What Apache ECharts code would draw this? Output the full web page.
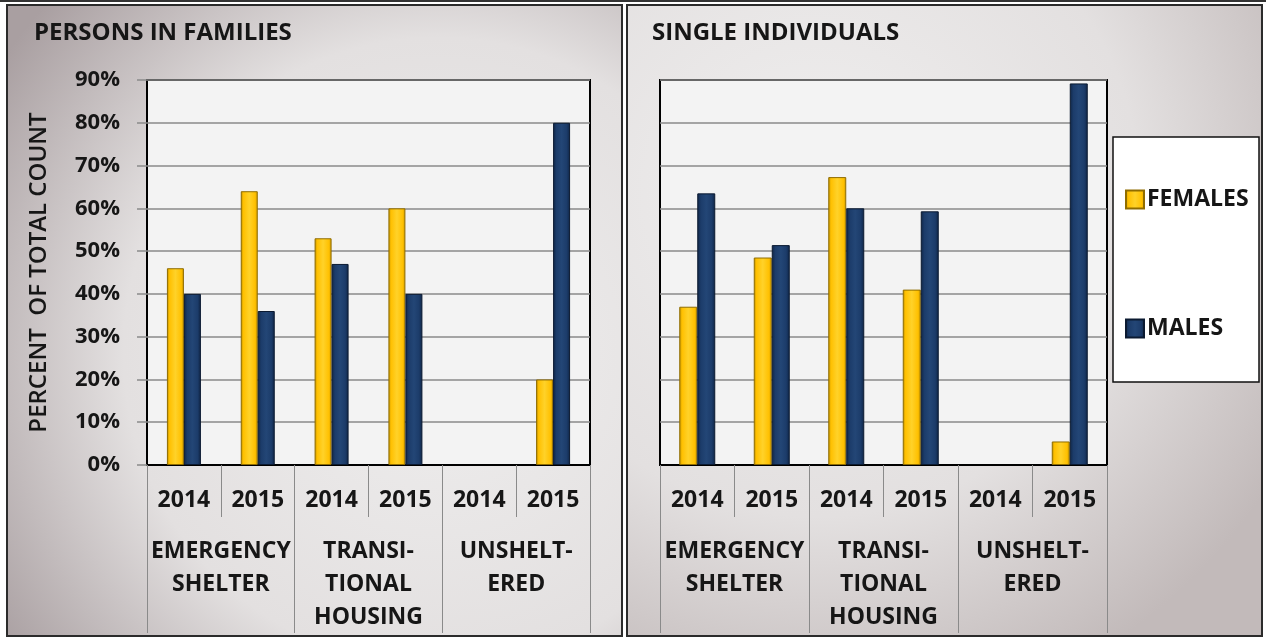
<!DOCTYPE html>
<html>
<head>
<meta charset="utf-8">
<script src="https://cdn.jsdelivr.net/npm/echarts@6/dist/echarts.min.js"></script>
<style>
  body { margin: 0; background: #ffffff; }
  #chart { width: 1266px; height: 638px; }
</style>
</head>
<body>
<div id="chart"></div>
<script>
// data (percent of total count)
const years = ['2014', '2015', '2014', '2015', '2014', '2015'];
const groups = ['EMERGENCY\nSHELTER', 'TRANSI-\nTIONAL\nHOUSING', 'UNSHELT-\nERED'];

const famFemales = [46, 64, 53, 60, 0, 20];
const famMales = [40, 36, 47, 40, 0, 80];
const sglFemales = [37, 48.5, 67.3, 41, 0, 5.5];
const sglMales = [63.5, 51.4, 60, 59.3, 0, 89.2];

const FONT = '"Open Sans", "Noto Sans", sans-serif';

const yellow = {
  type: 'linear', x: 0, y: 0, x2: 1, y2: 0,
  colorStops: [
    { offset: 0, color: '#b88c00' },
    { offset: 0.15, color: '#ffc000' },
    { offset: 0.5, color: '#ffd229' },
    { offset: 0.85, color: '#ffc000' },
    { offset: 1, color: '#c99700' }
  ]
};
const navy = {
  type: 'linear', x: 0, y: 0, x2: 1, y2: 0,
  colorStops: [
    { offset: 0, color: '#0f2545' },
    { offset: 0.2, color: '#1c3c6a' },
    { offset: 0.5, color: '#234676' },
    { offset: 0.8, color: '#1c3c6a' },
    { offset: 1, color: '#0f2545' }
  ]
};

const makeGrid = (left, right) => ({
  left: left, right: right, top: 80, bottom: 173,
  show: true, backgroundColor: '#f3f3f3', borderColor: '#000', borderWidth: 2
});

const yearAxis = (gridIndex) => ({
  type: 'category', gridIndex: gridIndex, data: years, position: 'bottom',
  axisLine: { show: true, lineStyle: { color: '#000', width: 2 } },
  axisTick: { show: true, interval: 0, length: 52, lineStyle: { color: '#8a8a8a', width: 1 } },
  axisLabel: { interval: 0, margin: 24, color: '#161616', fontFamily: FONT, fontWeight: 'bold', fontSize: 23 }
});

const groupAxis = (gridIndex) => ({
  type: 'category', gridIndex: gridIndex, data: groups, position: 'bottom',
  axisLine: { show: false },
  axisTick: { show: true, interval: 0, length: 168, lineStyle: { color: '#8a8a8a', width: 1 } },
  axisLabel: { interval: 0, margin: 70, lineHeight: 33, color: '#161616', fontFamily: FONT, fontWeight: 'bold', fontSize: 23 }
});

const valueAxis = (gridIndex, withLabels) => ({
  type: 'value', gridIndex: gridIndex, min: 0, max: 90, interval: 10,
  name: withLabels ? 'PERCENT  OF TOTAL COUNT' : '',
  nameLocation: 'middle', nameGap: 96, nameRotate: 90,
  nameTextStyle: { color: '#161616', fontFamily: FONT, fontWeight: 600, fontSize: 24 },
  axisLine: { show: false },
  axisTick: { show: withLabels, length: 10, lineStyle: { color: '#8a8a8a', width: 1.5 } },
  axisLabel: {
    show: withLabels, margin: 27, color: '#161616', fontFamily: FONT, fontWeight: 'bold', fontSize: 22,
    formatter: (v) => v + '%'
  },
  splitLine: { show: true, lineStyle: { color: '#8a8a8a', width: 1.5 } }
});

// a zero share gets no bar at all, as in the picture
const barSeries = (name, data, axisIndex, color, border, width) => ({
  name: name, type: 'bar', data: data.map(v => (v === 0 ? null : v)),
  xAxisIndex: axisIndex, yAxisIndex: axisIndex,
  barWidth: width, barGap: '0%',
  itemStyle: { color: color, borderColor: border, borderWidth: 1 }
});

const panelBg = (x, w, cx, cy, inner, outer) => ({
  type: 'rect', z: -10, silent: true,
  shape: { x: x, y: 5, width: w, height: 631 },
  style: {
    fill: { type: 'radial', x: cx, y: cy, r: 0.85, colorStops: [
      { offset: 0, color: inner }, { offset: 0.6, color: '#e3e0e0' }, { offset: 1, color: outer }
    ] },
    stroke: '#2b2b2b', lineWidth: 2
  }
});

const chart = echarts.init(document.getElementById('chart'));

chart.setOption({
  animation: false,
  title: [
    { text: 'PERSONS IN FAMILIES', left: 29, top: 16,
      textStyle: { color: '#161616', fontFamily: FONT, fontWeight: 'bold', fontSize: 24 } },
    { text: 'SINGLE INDIVIDUALS', left: 647, top: 16,
      textStyle: { color: '#161616', fontFamily: FONT, fontWeight: 'bold', fontSize: 24 } }
  ],
  graphic: [
    { type: 'line', z: -10, silent: true, shape: { x1: 0, y1: 1, x2: 1266, y2: 1 },
      style: { stroke: '#333', lineWidth: 2 } },
    panelBg(7, 615, 0.7, 0.55, '#efeeee', '#a99fa1'),
    panelBg(627, 635, 0.3, 0.3, '#f0efef', '#c2baba'),
    { type: 'rect', z: 1, silent: true,
      shape: { x: 1113, y: 137, width: 146, height: 245 },
      style: { fill: '#ffffff', stroke: '#111', lineWidth: 1.5 } }
  ],
  legend: {
    data: ['FEMALES', 'MALES'],
    orient: 'vertical', left: 1125, top: 188,
    icon: 'rect', itemWidth: 18, itemHeight: 18, itemGap: 106,
    padding: 0,
    textStyle: { color: '#161616', fontFamily: FONT, fontWeight: 'bold', fontSize: 23, padding: [0, 0, 0, -2] }
  },
  grid: [makeGrid(147, 676), makeGrid(660, 159)],
  xAxis: [yearAxis(0), yearAxis(1), groupAxis(0), groupAxis(1)],
  yAxis: [valueAxis(0, true), valueAxis(1, false)],
  series: [
    barSeries('FEMALES', famFemales, 0, yellow, '#8f6c00', 17),
    barSeries('MALES', famMales, 0, navy, '#0b1a31', 17),
    barSeries('FEMALES', sglFemales, 1, yellow, '#8f6c00', 18),
    barSeries('MALES', sglMales, 1, navy, '#0b1a31', 18)
  ]
});
</script>
</body>
</html>
